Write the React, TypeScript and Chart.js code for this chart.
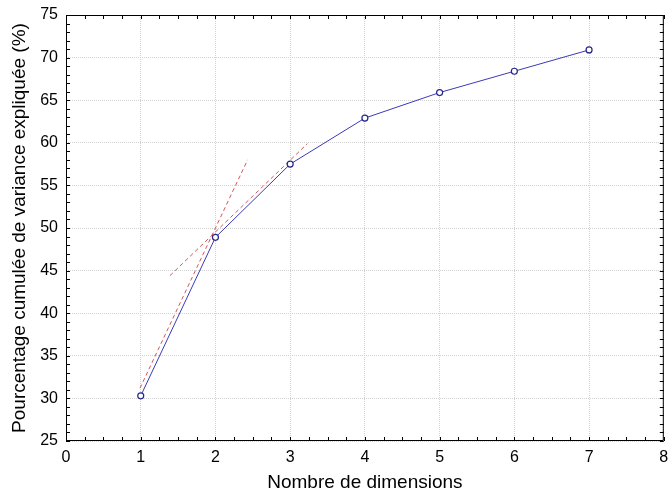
import React, { useEffect, useRef } from "react";
import { Chart, registerables } from "chart.js";

Chart.register(...registerables);

const dimensions = [1, 2, 3, 4, 5, 6, 7];
const cumulativeVariance = [30.3, 48.9, 57.5, 62.9, 65.9, 68.4, 70.9];
// Two red dashed guide lines (start/end points)
const guideAX = [0.99, 2.43];
const guideAY = [31.2, 58.0];
const guideBX = [1.39, 3.23];
const guideBY = [44.4, 59.9];

const xTitle = "Nombre de dimensions";
const yTitle = "Pourcentage cumulée de variance expliquée (%)";

const FONT = "'Liberation Sans', Arial, sans-serif";

const framePlugin = {
  id: "frameTicks",
  afterDraw(chart: any) {
    const { ctx, chartArea: a, scales } = chart;
    const xs = scales.x;
    const ys = scales.y;
    ctx.save();
    ctx.strokeStyle = "#000";
    ctx.lineWidth = 1;
    ctx.beginPath();
    ctx.rect(a.left + 0.5, a.top + 0.5, a.right - a.left - 1, a.bottom - a.top - 1);
    ctx.stroke();
    ctx.beginPath();
    for (let v = xs.min; v <= xs.max + 1e-9; v += 0.25) {
      const p = Math.round(xs.getPixelForValue(v)) + 0.5;
      ctx.moveTo(p, a.bottom);
      ctx.lineTo(p, a.bottom - 4);
      ctx.moveTo(p, a.top);
      ctx.lineTo(p, a.top + 4);
    }
    for (let v = ys.min; v <= ys.max + 1e-9; v += 1) {
      const p = Math.round(ys.getPixelForValue(v)) + 0.5;
      ctx.moveTo(a.left, p);
      ctx.lineTo(a.left + 4, p);
      ctx.moveTo(a.right, p);
      ctx.lineTo(a.right - 4, p);
    }
    ctx.stroke();
    ctx.restore();
  },
};

export default function App() {
  const ref = useRef<HTMLCanvasElement>(null);
  useEffect(() => {
    if (!ref.current) return;
    const chart = new Chart(ref.current, {
      type: "line",
      data: {
        datasets: [
          {
            data: dimensions.map((d, i) => ({ x: d, y: cumulativeVariance[i] })),
            borderColor: "#3a3ab8",
            borderWidth: 1,
            pointRadius: 3,
            pointBackgroundColor: "#ffffff",
            pointBorderColor: "#25258a",
            pointBorderWidth: 1.2,
            tension: 0,
          },
          {
            data: guideAX.map((x, i) => ({ x, y: guideAY[i] })),
            borderColor: "#d85555",
            borderWidth: 1,
            borderDash: [4, 3],
            pointRadius: 0,
          },
          {
            data: guideBX.map((x, i) => ({ x, y: guideBY[i] })),
            borderColor: "#d85555",
            borderWidth: 1,
            borderDash: [4, 3],
            pointRadius: 0,
          },
        ],
      },
      options: {
        animation: false,
        responsive: false,
        events: [],
        layout: { padding: { top: 15, right: 3, left: 0, bottom: 0 } },
        plugins: { legend: { display: false }, tooltip: { enabled: false } },
        scales: {
          x: {
            type: "linear",
            min: 0,
            max: 8,
            ticks: { stepSize: 1, color: "#000", font: { family: FONT, size: 16 }, padding: 7 },
            grid: { color: "#d2d2d2", drawTicks: false, lineWidth: 1 },
            border: { display: false, dash: [1, 1] },
            title: {
              display: true,
              text: xTitle,
              color: "#000",
              font: { family: FONT, size: 19 },
              padding: { top: 0, bottom: 3 },
            },
            afterFit(scale: any) {
              scale.height = 56;
              scale.paddingLeft = 0;
              scale.paddingRight = 0;
            },
          },
          y: {
            type: "linear",
            min: 25,
            max: 75,
            ticks: { stepSize: 5, color: "#000", font: { family: FONT, size: 16 }, padding: 8 },
            grid: { color: "#d2d2d2", drawTicks: false, lineWidth: 1 },
            border: { display: false, dash: [1, 1] },
            title: {
              display: true,
              text: yTitle,
              color: "#000",
              font: { family: FONT, size: 19 },
              padding: { top: 8, bottom: 0 },
            },
            afterFit(scale: any) {
              scale.width = 66;
              scale.paddingTop = 0;
              scale.paddingBottom = 0;
            },
          },
        },
      },
      plugins: [framePlugin],
    } as any);
    return () => chart.destroy();
  }, []);
  return (
    <div style={{ position: "fixed", left: 0, top: 0, width: 669, height: 497, background: "#fff" }}>
      <canvas ref={ref} width={669} height={497} style={{ display: "block" }} />
    </div>
  );
}
